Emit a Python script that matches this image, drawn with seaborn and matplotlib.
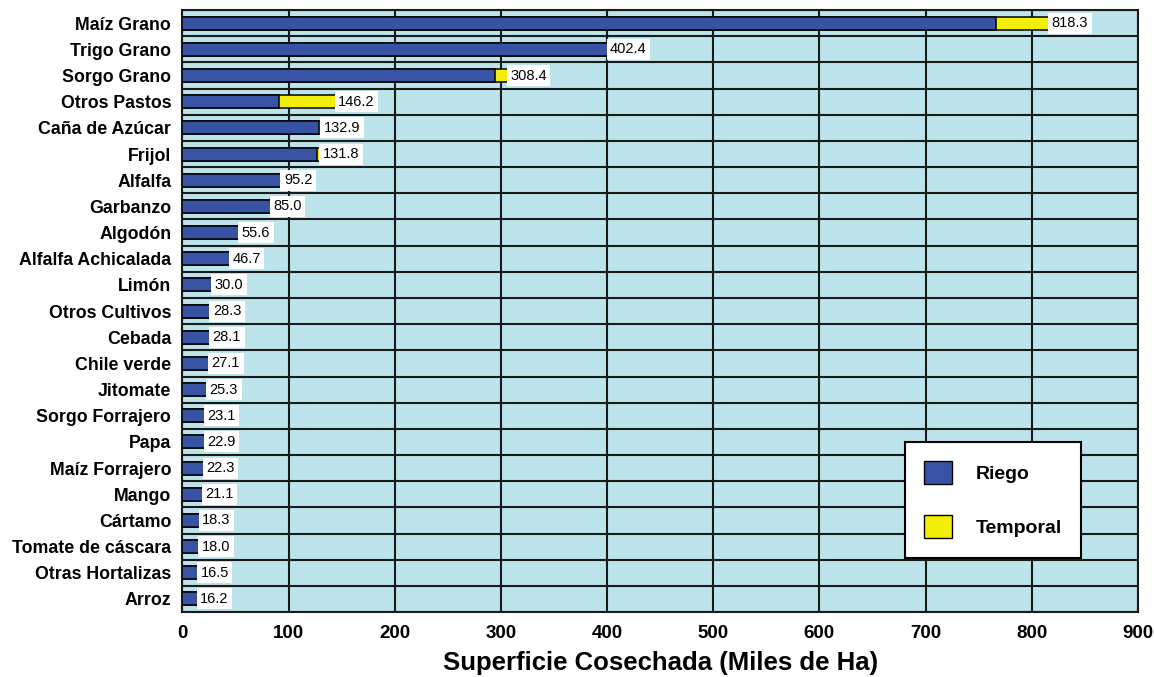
import numpy as np
import pandas as pd
import seaborn as sns
import matplotlib.pyplot as plt
from matplotlib.patches import Patch
from matplotlib.ticker import MultipleLocator

cultivos = ["Maíz Grano", "Trigo Grano", "Sorgo Grano", "Otros Pastos", "Caña de Azúcar",
            "Frijol", "Alfalfa", "Garbanzo", "Algodón", "Alfalfa Achicalada", "Limón",
            "Otros Cultivos", "Cebada", "Chile verde", "Jitomate", "Sorgo Forrajero", "Papa",
            "Maíz Forrajero", "Mango", "Cártamo", "Tomate de cáscara", "Otras Hortalizas", "Arroz"]
total = [818.3, 402.4, 308.4, 146.2, 132.9, 131.8, 95.2, 85.0, 55.6, 46.7, 30.0,
         28.3, 28.1, 27.1, 25.3, 23.1, 22.9, 22.3, 21.1, 18.3, 18.0, 16.5, 16.2]
temporal = [52.0, 0, 13.5, 55.0, 4.0, 5.0, 0, 0, 0, 0, 0,
            0, 0, 0, 0, 0, 0, 0, 0, 0, 0, 0, 0]

df = pd.DataFrame({"cultivo": cultivos, "total": total, "temporal": temporal})
df["riego"] = df["total"] - df["temporal"]

azul = "#3853A4"
amarillo = "#F2EE0A"
fondo = "#BDE4EB"

sns.set_style("white")
plt.rcParams["font.family"] = ["Liberation Sans", "DejaVu Sans"]

fig = plt.figure(figsize=(11.54, 6.77), dpi=100)
ax = fig.add_axes([0.158, 0.096, 0.828, 0.889])
ax.set_facecolor(fondo)

# total (amarillo) abajo, riego (azul) encima
sns.barplot(data=df, x="total", y="cultivo", orient="h", color=amarillo,
            edgecolor="black", linewidth=1.1, width=0.5, saturation=1, ax=ax, zorder=3)
sns.barplot(data=df, x="riego", y="cultivo", orient="h", color=azul,
            edgecolor="black", linewidth=1.1, width=0.5, saturation=1, ax=ax, zorder=4)

for i, v in enumerate(df["total"]):
    ax.text(v + 0.5, i, f"{v:.1f}", va="center", ha="left", fontsize=10.5, zorder=5,
            color="black", bbox=dict(facecolor="white", edgecolor="none", pad=2.5))

ax.set_xlim(0, 900)
ax.set_ylim(len(cultivos) - 0.5, -0.5)
ax.xaxis.set_major_locator(MultipleLocator(100))
ax.xaxis.set_minor_locator(MultipleLocator(20))
ax.set_yticks(np.arange(len(cultivos) + 1) - 0.5, minor=True)
ax.grid(which="major", axis="x", color="#1a1a1a", linewidth=1.5, zorder=1)
ax.grid(which="minor", axis="y", color="#1a1a1a", linewidth=1.5, zorder=1)
ax.set_axisbelow(True)
ax.tick_params(axis="x", which="major", direction="out", length=6, width=1.5,
               labelsize=13.5, colors="black")
ax.tick_params(axis="x", which="minor", direction="out", length=4, width=1.2)
ax.tick_params(axis="y", which="major", length=0, labelsize=12.8, pad=8, colors="black")
ax.tick_params(axis="y", which="minor", direction="out", length=6, width=1.5)
for lbl in ax.get_xticklabels() + ax.get_yticklabels():
    lbl.set_fontweight("bold")
for s in ax.spines.values():
    s.set_linewidth(1.5)
    s.set_color("#1a1a1a")

ax.set_ylabel("")
ax.set_xlabel("Superficie Cosechada (Miles de Ha)", fontsize=18.5, fontweight="bold",
              labelpad=6, color="black")

handles = [Patch(facecolor=azul, edgecolor="black", label="Riego"),
           Patch(facecolor=amarillo, edgecolor="black", label="Temporal")]
leg = ax.legend(handles=handles, loc="lower right", bbox_to_anchor=(0.941, 0.09),
                frameon=True, fancybox=False, edgecolor="black", framealpha=1,
                handlelength=1.45, handleheight=1.45, labelspacing=1.6, borderpad=1.0,
                handletextpad=1.2, borderaxespad=0, labelcolor="black",
                prop={"size": 14, "weight": "bold"})
leg.get_frame().set_linewidth(1.5)
leg.set_zorder(6)

fig.savefig("out.png", dpi=100, facecolor="white")
